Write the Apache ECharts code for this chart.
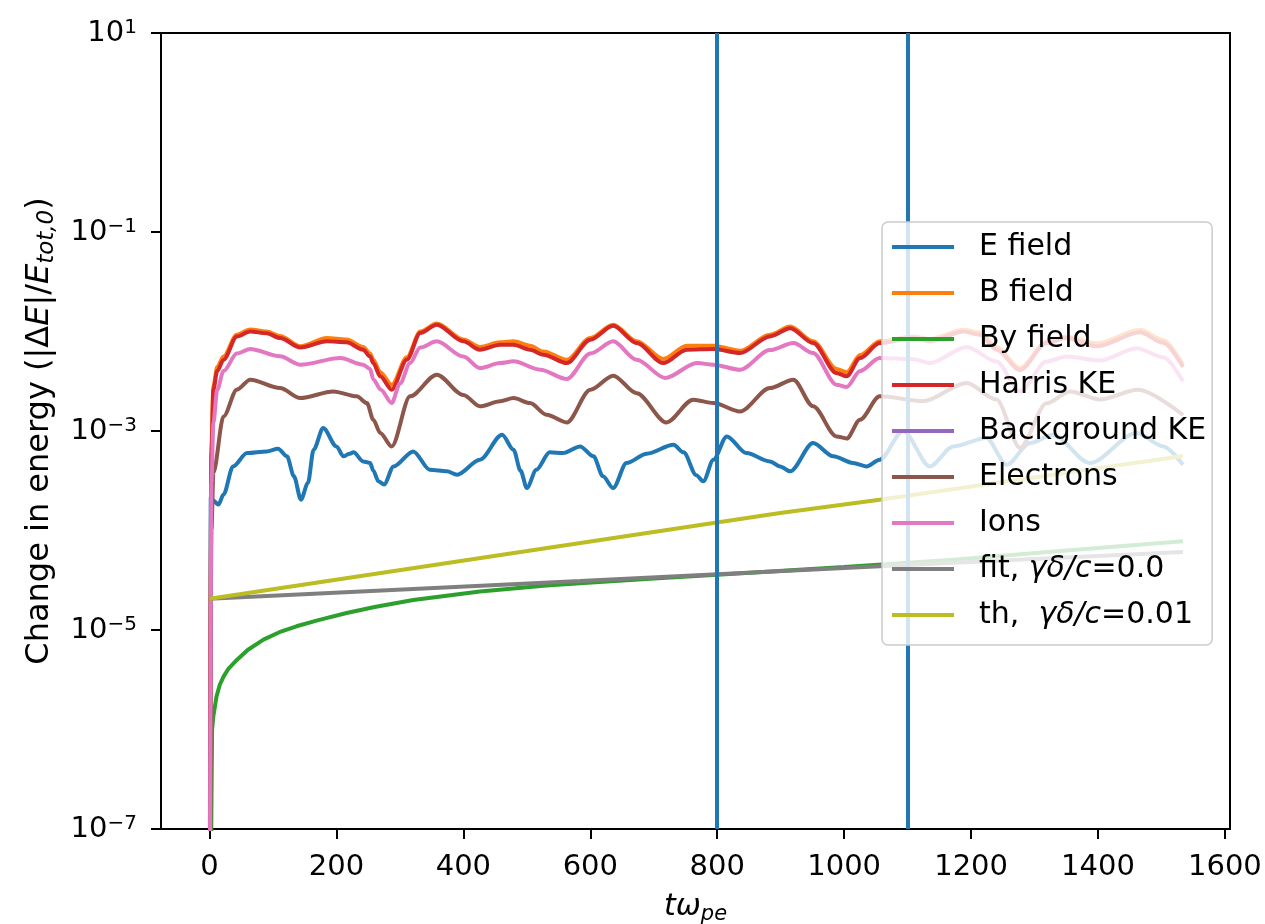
<!DOCTYPE html>
<html>
<head>
<meta charset="utf-8">
<script src="https://cdn.jsdelivr.net/npm/echarts@6/dist/echarts.min.js"></script>
<style>
  html, body { margin: 0; padding: 0; background: #fff; }
  #chart { width: 1265px; height: 924px; }
</style>
</head>
<body>
<div id="chart"></div>
<script>
// energy change vs time, log y axis
const FONT = 'DejaVu Sans';

const X_TICKS = [0, 200, 400, 600, 800, 1000, 1200, 1400, 1600];
const Y_TICKS = [1e-7, 1e-5, 1e-3, 1e-1, 10];
const VLINES = [800, 1100];

const eField = [
  [0, 1e-9], [2, 2.2e-4], [6, 2.0e-4], [14, 1.82e-4], [22, 2.3e-4], [37, 4.4e-4], [59, 6.0e-4],
  [90, 6.24e-4], [108, 6.63e-4], [122, 5.56e-4], [133, 3.5e-4], [144, 2.04e-4], [155, 3.0e-4],
  [164, 6.49e-4], [179, 1.07e-3], [200, 7.0e-4], [211, 5.56e-4], [220, 5.9e-4], [227, 6.1e-4],
  [242, 4.95e-4], [253, 4.77e-4], [258, 4.0e-4], [266, 3.12e-4], [275, 2.9e-4], [290, 4.41e-4],
  [321, 6.24e-4], [347, 4.08e-4], [374, 3.93e-4], [390, 3.64e-4], [426, 5.15e-4], [461, 9.18e-4],
  [479, 6.49e-4], [490, 4.0e-4], [500, 2.67e-4], [515, 4.08e-4], [536, 6.1e-4], [557, 6.0e-4],
  [584, 7.0e-4], [605, 5.56e-4], [620, 3.5e-4], [636, 2.67e-4], [657, 4.77e-4], [689, 5.92e-4],
  [731, 7.28e-4], [747, 6.1e-4], [767, 3.6e-4], [778, 3.12e-4], [794, 5.15e-4], [815, 8.83e-4],
  [846, 6.0e-4], [883, 4.95e-4], [899, 4.41e-4], [915, 3.93e-4], [951, 7.57e-4], [983, 5.56e-4],
  [1014, 4.77e-4], [1035, 4.41e-4], [1056, 5.15e-4], [1093, 1.0e-3], [1135, 4.41e-4], [1172, 7.0e-4],
  [1224, 8.5e-4], [1256, 4.58e-4], [1293, 7.57e-4], [1329, 9.18e-4], [1387, 4.77e-4], [1461, 9.55e-4],
  [1503, 7.0e-4], [1534, 4.58e-4]
];

const bField = [
  [0, 1e-9], [3, 7e-4], [6, 2.8e-3], [12, 4.4e-3], [22, 5.6e-3], [43, 9.3e-3], [64, 1.05e-2],
  [90, 1.0e-2], [111, 9.0e-3], [143, 7.1e-3], [185, 8.6e-3], [216, 8.3e-3], [242, 7.0e-3],
  [253, 6.0e-3], [258, 5.2e-3], [269, 3.9e-3], [287, 2.9e-3], [311, 5.5e-3], [332, 1.0e-2],
  [358, 1.2e-2], [400, 8.3e-3], [426, 7.0e-3], [458, 7.8e-3], [479, 8.0e-3], [505, 7.2e-3],
  [526, 6.3e-3], [563, 5.2e-3], [600, 8.6e-3], [636, 1.17e-2], [673, 8.0e-3], [715, 5.3e-3],
  [752, 7.2e-3], [794, 7.2e-3], [836, 6.4e-3], [883, 9.3e-3], [915, 1.12e-2], [951, 8.0e-3],
  [988, 4.2e-3], [1004, 3.9e-3], [1025, 5.8e-3], [1056, 8.0e-3], [1109, 8.9e-3], [1135, 8.4e-3],
  [1188, 1.04e-2], [1214, 9.8e-3], [1240, 7.0e-3], [1277, 4.3e-3], [1319, 7.9e-3], [1350, 8.9e-3],
  [1398, 7.6e-3], [1466, 1.04e-2], [1503, 8.2e-3], [1534, 4.6e-3]
];

const byField = [
  [0, 1e-9], [4, 1.0e-6], [6, 1.36e-6], [11, 2.15e-6], [16, 2.8e-6], [22, 3.4e-6], [30, 4.1e-6],
  [43, 5.0e-6], [60, 6.3e-6], [85, 8.0e-6], [110, 9.5e-6], [137, 1.09e-5], [170, 1.25e-5],
  [216, 1.48e-5], [260, 1.7e-5], [321, 2.0e-5], [426, 2.44e-5], [531, 2.8e-5], [584, 2.95e-5],
  [700, 3.3e-5], [800, 3.6e-5], [1000, 4.3e-5], [1177, 5.1e-5], [1350, 6.3e-5], [1534, 7.8e-5]
];

const harrisKE = [
  [0, 1e-9], [3, 6e-4], [6, 2.6e-3], [12, 4.0e-3], [22, 5.2e-3], [43, 8.9e-3], [64, 1.0e-2],
  [90, 9.6e-3], [111, 8.6e-3], [143, 6.9e-3], [185, 7.96e-3], [216, 7.78e-3], [242, 6.57e-3],
  [253, 5.6e-3], [258, 4.82e-3], [269, 3.54e-3], [287, 2.6e-3], [311, 5.21e-3], [332, 9.66e-3],
  [358, 1.17e-2], [400, 7.96e-3], [426, 6.57e-3], [458, 7.37e-3], [479, 7.37e-3], [505, 6.57e-3],
  [526, 5.85e-3], [563, 4.82e-3], [600, 8.27e-3], [636, 1.14e-2], [673, 7.66e-3], [715, 4.82e-3],
  [752, 6.57e-3], [794, 6.67e-3], [836, 6.08e-3], [883, 8.93e-3], [915, 1.08e-2], [951, 7.66e-3],
  [988, 3.83e-3], [1004, 3.54e-3], [1025, 5.41e-3], [1056, 7.66e-3], [1109, 8.6e-3], [1135, 7.96e-3],
  [1188, 1.0e-2], [1214, 9.3e-3], [1240, 6.57e-3], [1277, 4.1e-3], [1319, 7.66e-3], [1350, 8.6e-3],
  [1398, 7.1e-3], [1466, 9.8e-3], [1503, 7.7e-3], [1534, 4.4e-3]
];

const backgroundKE = [];

const electrons = [
  [0, 1e-9], [3, 1e-4], [6, 3.8e-4], [22, 1.4e-3], [43, 2.6e-3], [64, 3.28e-3], [111, 2.7e-3],
  [143, 2.14e-3], [195, 2.5e-3], [232, 2.23e-3], [248, 1.91e-3], [258, 1.3e-3], [269, 9.55e-4],
  [287, 7.0e-4], [316, 2.23e-3], [358, 3.68e-3], [400, 2.3e-3], [426, 1.77e-3], [458, 1.99e-3],
  [479, 2.14e-3], [505, 1.91e-3], [531, 1.46e-3], [563, 1.22e-3], [600, 2.6e-3], [636, 3.6e-3],
  [673, 2.4e-3], [720, 1.22e-3], [762, 2.06e-3], [794, 1.91e-3], [836, 1.57e-3], [883, 2.7e-3],
  [920, 3.28e-3], [951, 1.77e-3], [988, 8.83e-4], [1004, 8.4e-4], [1025, 1.3e-3], [1056, 2.23e-3],
  [1125, 2.0e-3], [1193, 3.03e-3], [1240, 2.07e-3], [1277, 6.8e-4], [1319, 1.9e-3], [1356, 2.5e-3],
  [1403, 2.07e-3], [1463, 2.6e-3], [1534, 1.45e-3]
];

const ions = [
  [0, 1e-9], [3, 3e-4], [6, 1.2e-3], [12, 2.6e-3], [22, 4.0e-3], [43, 6.0e-3], [64, 6.67e-3],
  [111, 5.63e-3], [143, 4.64e-3], [206, 5.41e-3], [242, 4.64e-3], [253, 4.2e-3], [258, 3.3e-3],
  [270, 2.6e-3], [287, 1.91e-3], [300, 3.0e-3], [316, 4.82e-3], [332, 6.9e-3], [358, 7.96e-3],
  [400, 5.6e-3], [426, 4.29e-3], [458, 4.82e-3], [479, 5.01e-3], [521, 4.13e-3], [563, 3.33e-3],
  [600, 6.0e-3], [636, 7.96e-3], [673, 5.2e-3], [718, 3.41e-3], [768, 4.82e-3], [794, 4.64e-3],
  [836, 4.13e-3], [883, 6.5e-3], [920, 7.66e-3], [951, 6.08e-3], [988, 2.92e-3], [1004, 2.77e-3],
  [1025, 4.0e-3], [1056, 5.41e-3], [1109, 5.27e-3], [1135, 4.82e-3], [1193, 7.0e-3], [1240, 5.0e-3],
  [1277, 2.5e-3], [1319, 5.0e-3], [1350, 5.6e-3], [1403, 5.1e-3], [1461, 6.8e-3], [1503, 5.5e-3],
  [1534, 3.16e-3]
];

const fitLine = [[0, 2.06e-5], [584, 3.1e-5], [1056, 4.37e-5], [1534, 6.08e-5]];
const thLine = [[0, 2.06e-5], [899, 1.5e-4], [1056, 2.04e-4], [1534, 5.6e-4]];

const SERIES = [
  { name: 'E field', data: eField, color: '#1f77b4', smooth: true },
  { name: 'B field', data: bField, color: '#ff7f0e', smooth: true },
  { name: 'By field', data: byField, color: '#2ca02c', smooth: false },
  { name: 'Harris KE', data: harrisKE, color: '#d62728', smooth: true },
  { name: 'Background KE', data: backgroundKE, color: '#9467bd', smooth: false },
  { name: 'Electrons', data: electrons, color: '#8c564b', smooth: true },
  { name: 'Ions', data: ions, color: '#e377c2', smooth: true },
  { name: 'fit, γδ/c=0.0', data: fitLine, color: '#7f7f7f', smooth: false },
  { name: 'th,  γδ/c=0.01', data: thLine, color: '#bcbd22', smooth: false }
];

const LEGEND_RICH = {
  'fit, γδ/c=0.0': '{g|}{t|fit, }{i|γδ/c}{t|=0.0}',
  'th,  γδ/c=0.01': '{g|}{t|th,  }{i|γδ/c}{t|=0.01}'
};

function supLabel(v) {
  const e = Math.round(Math.log10(v));
  return '{b|10}{s|' + (e < 0 ? '\u2212' + (-e) : String(e)) + '}';
}

const chart = echarts.init(document.getElementById('chart'), null, { renderer: 'canvas' });

const series = SERIES.map(s => ({
  name: s.name,
  type: 'line',
  data: s.data,
  showSymbol: false,
  symbol: 'none',
  smooth: s.smooth ? 0.3 : false,
  smoothMonotone: 'x',
  color: s.color,
  lineStyle: { color: s.color, width: 4 },
  z: 2
}));

// the two axvline markers, drawn on top of the curves
series.push({
  name: 'vlines',
  type: 'line',
  data: [],
  z: 3,
  markLine: {
    silent: true,
    symbol: 'none',
    label: { show: false },
    lineStyle: { color: '#1f77b4', width: 4, type: 'solid' },
    data: VLINES.map(v => ({ xAxis: v }))
  }
});

chart.setOption({
  animation: false,
  backgroundColor: '#fff',
  textStyle: { fontFamily: FONT, color: '#000' },
  grid: {
    left: 161, right: 35, top: 33, bottom: 95,
    outerBoundsMode: 'none',
    containLabel: false,
    show: true, borderColor: '#000', borderWidth: 2, backgroundColor: 'transparent'
  },
  legend: {
    data: SERIES.map(s => s.name),
    orient: 'vertical',
    left: 882, top: 222,
    padding: [10, 6, 15, 10],
    itemGap: 16,
    itemWidth: 62,
    itemHeight: 4,
    icon: 'rect',
    selectedMode: false,
    backgroundColor: 'rgba(255,255,255,0.8)',
    borderColor: '#cccccc',
    borderWidth: 1.5,
    borderRadius: 6,
    z: 10,
    formatter: name => LEGEND_RICH[name] || ('{g|}{t|' + name + '}'),
    textStyle: {
      fontFamily: FONT,
      color: '#000',
      rich: {
        g: { width: 20 },
        t: { fontFamily: FONT, fontSize: 30, lineHeight: 30, color: '#000' },
        i: { fontFamily: FONT, fontSize: 30, lineHeight: 30, fontStyle: 'italic', color: '#000' }
      }
    }
  },
  xAxis: {
    type: 'value',
    min: -76.5,
    max: 1608,
    name: '{i|tω}{sub|pe}',
    nameLocation: 'middle',
    nameGap: 60,
    nameTextStyle: {
      rich: {
        i: { fontFamily: FONT, fontSize: 30, fontStyle: 'italic', lineHeight: 36, color: '#000' },
        sub: { fontFamily: FONT, fontSize: 21, fontStyle: 'italic', lineHeight: 21, verticalAlign: 'bottom', color: '#000' }
      }
    },
    splitLine: { show: false },
    axisLine: { onZero: false, lineStyle: { color: '#000', width: 2 } },
    axisTick: { customValues: X_TICKS, length: 10, lineStyle: { color: '#000', width: 2 } },
    axisLabel: {
      customValues: X_TICKS,
      margin: 24,
      formatter: v => String(v),
      fontFamily: FONT,
      fontSize: 29,
      color: '#000'
    }
  },
  yAxis: {
    type: 'log',
    logBase: 10,
    min: 1e-7,
    max: 10,
    name: '{n|Change in energy (|Δ}{i|E}{n||/}{i|E}{sub|tot,0}{n|)}',
    nameLocation: 'middle',
    nameRotate: 90,
    nameGap: 102,
    nameTextStyle: {
      rich: {
        n: { fontFamily: FONT, fontSize: 32, lineHeight: 38, color: '#000' },
        i: { fontFamily: FONT, fontSize: 32, fontStyle: 'italic', lineHeight: 38, color: '#000' },
        sub: { fontFamily: FONT, fontSize: 23, fontStyle: 'italic', lineHeight: 23, verticalAlign: 'bottom', color: '#000' }
      }
    },
    splitLine: { show: false },
    axisLine: { onZero: false, lineStyle: { color: '#000', width: 2 } },
    axisTick: { customValues: Y_TICKS, length: 10, lineStyle: { color: '#000', width: 2 } },
    axisLabel: {
      customValues: Y_TICKS,
      margin: 24,
      formatter: supLabel,
      rich: {
        b: { fontFamily: FONT, fontSize: 29, lineHeight: 30, color: '#000' },
        s: { fontFamily: FONT, fontSize: 20, lineHeight: 20, verticalAlign: 'top', color: '#000' }
      }
    }
  },
  series: series
});
</script>
</body>
</html>
